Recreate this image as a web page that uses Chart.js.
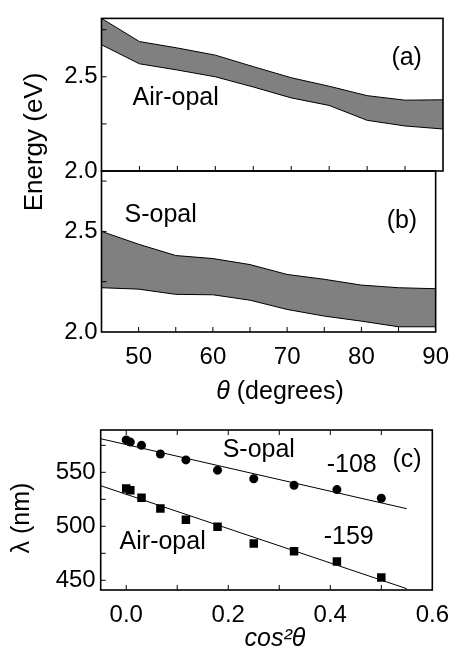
<!DOCTYPE html>
<html lang="en">
<head>
<meta charset="UTF-8">
<title>Opal stop band vs angle</title>
<script src="https://cdn.jsdelivr.net/npm/chart.js"></script>
<style>
  body { margin: 0; background: #fff; }
  .wrap { position: relative; width: 460px; height: 659px; }
  .wrap canvas { position: absolute; left: 0; top: 0; }
</style>
</head>
<body>
<div class="wrap">
  <canvas id="panelA" width="460" height="659"></canvas>
  <canvas id="panelB" width="460" height="659"></canvas>
  <canvas id="panelC" width="460" height="659"></canvas>
</div>
<script>
// (a), (b): stop band edges (eV) vs angle
const theta = [45, 50, 55, 60, 65, 70, 75, 80, 85, 90];
const airUpper = [2.81, 2.687, 2.653, 2.615, 2.554, 2.495, 2.45, 2.40, 2.376, 2.378];
const airLower = [2.67, 2.569, 2.536, 2.50, 2.446, 2.388, 2.348, 2.269, 2.239, 2.223];
const sUpper = [2.50, 2.436, 2.38, 2.365, 2.335, 2.286, 2.262, 2.233, 2.22, 2.215];
const sLower = [2.22, 2.213, 2.187, 2.185, 2.158, 2.112, 2.079, 2.054, 2.026, 2.026];

// (c): peak wavelength (nm) vs cos^2(theta)
const cos2 = [0, 0.008, 0.030, 0.067, 0.117, 0.179, 0.250, 0.329, 0.413, 0.500];
const sOpalNm = [580, 578, 575, 567, 561.5, 552, 544, 538, 534, 526];
const airOpalNm = [535, 533.5, 526.5, 516.5, 506, 499.5, 484, 477, 467.5, 452.5];
const fitX = [-0.05, 0.55];
const sFitNm = [581.1, 516.3];
const airFitNm = [537.6, 442.2];

// ticks
const thetaTicks = [45, 50, 55, 60, 65, 70, 75, 80, 85, 90];
const energyTicks = [2.0, 2.25, 2.5, 2.75];
const cos2Ticks = [0, 0.1, 0.2, 0.3, 0.4, 0.5, 0.6];
const lambdaTicks = [450, 475, 500, 525, 550, 575];

const FONT = '"Liberation Sans", Arial, sans-serif';

function pts(xs, ys) { return xs.map((x, i) => ({ x: x, y: ys[i] })); }

// box around the plot area + inward tick marks
const frame = {
  id: 'frame',
  afterDatasetsDraw(chart, args, o) {
    const { ctx, chartArea: a, scales } = chart;
    const len = 5;
    ctx.save();
    ctx.strokeStyle = '#000';
    ctx.lineWidth = 1;
    ctx.beginPath();
    scales.y.ticks.forEach(t => {
      const p = scales.y.getPixelForValue(t.value);
      if (p > a.top + 1 && p < a.bottom - 1) { ctx.moveTo(a.left, p); ctx.lineTo(a.left + len, p); }
    });
    scales.x.ticks.forEach(t => {
      const p = scales.x.getPixelForValue(t.value);
      if (p > a.left + 1 && p < a.right - 1) {
        ctx.moveTo(p, a.bottom); ctx.lineTo(p, a.bottom - len);
        if (o.top) { ctx.moveTo(p, a.top); ctx.lineTo(p, a.top + len); }
      }
    });
    ctx.stroke();
    ctx.lineWidth = 1.6;
    ctx.strokeRect(a.left, a.top, a.right - a.left, a.bottom - a.top);
    ctx.restore();
  }
};

// text inside the panels (data coords) and the axis titles (page coords)
const notes = {
  id: 'notes',
  afterDatasetsDraw(chart, args, o) {
    const { ctx, scales } = chart;
    ctx.save();
    ctx.fillStyle = '#000';
    ctx.textBaseline = 'middle';
    (o.items || []).forEach(n => {
      ctx.font = '25px ' + FONT;
      ctx.textAlign = 'left';
      ctx.fillText(n.text, scales.x.getPixelForValue(n.x), scales.y.getPixelForValue(n.y));
    });
    (o.titles || []).forEach(t => {
      ctx.save();
      ctx.translate(t.x, t.y);
      if (t.rotate) ctx.rotate(-Math.PI / 2);
      const parts = t.parts.map(p => ({ text: p.text, font: (p.italic ? 'italic ' : '') + t.size + 'px ' + FONT }));
      let w = 0;
      parts.forEach(p => { ctx.font = p.font; p.w = ctx.measureText(p.text).width; w += p.w; });
      let x = -w / 2;
      ctx.textAlign = 'left';
      parts.forEach(p => { ctx.font = p.font; ctx.fillText(p.text, x, 0); x += p.w; });
      ctx.restore();
    });
    ctx.restore();
  }
};

function energyAxis(max) {
  return {
    type: 'linear', min: 2.0, max: max,
    grid: { display: false, drawTicks: false }, border: { display: false },
    afterBuildTicks: s => { s.ticks = energyTicks.map(v => ({ value: v })); },
    afterFit: s => { s.width = 101.5; },
    ticks: {
      color: '#000', padding: 4, font: { family: FONT, size: 24 },
      callback: v => (Math.round(v * 4) % 2 === 0 ? v.toFixed(1) : '')
    }
  };
}

function thetaAxis(showLabels, h) {
  return {
    type: 'linear', min: 45, max: 90,
    grid: { display: false, drawTicks: false }, border: { display: false },
    afterBuildTicks: s => { s.ticks = thetaTicks.map(v => ({ value: v })); },
    afterFit: s => { s.height = h; },
    ticks: {
      display: showLabels, color: '#000', padding: 11, maxRotation: 0, autoSkip: false,
      font: { family: FONT, size: 24 },
      callback: v => (v % 10 === 0 ? String(v) : '')
    }
  };
}

function bandChart(id, upper, lower, yMax, padTop, padBottom, xH, showX, extra) {
  return new Chart(document.getElementById(id), {
    type: 'line',
    data: {
      datasets: [
        { data: pts(theta, lower), borderColor: '#000', borderWidth: 1, pointRadius: 0, fill: false },
        { data: pts(theta, upper), borderColor: '#000', borderWidth: 1, pointRadius: 0,
          fill: '-1', backgroundColor: '#808080' }
      ]
    },
    options: {
      responsive: false, animation: false,
      layout: { padding: { left: 0, top: padTop, right: 17, bottom: padBottom } },
      elements: { line: { tension: 0 } },
      plugins: { legend: { display: false }, tooltip: { enabled: false }, frame: {}, notes: extra },
      scales: { x: thetaAxis(showX, xH), y: energyAxis(yMax) }
    },
    plugins: [frame, notes]
  });
}

bandChart('panelA', airUpper, airLower, 2.81, 7, 488, 0, false, {
  items: [
    { text: 'Air-opal', x: 49.1, y: 2.386 },
    { text: '(a)', x: 83.2, y: 2.6 }
  ],
  titles: [
    { x: 35, y: 142, rotate: true, size: 26, parts: [{ text: 'Energy (eV)' }] }
  ]
});

bandChart('panelB', sUpper, sLower, 2.8, 171, 659 - 332 - 40, 40, true, {
  items: [
    { text: 'S-opal', x: 48.1, y: 2.579 },
    { text: '(b)', x: 83.4, y: 2.55 }
  ],
  titles: [
    { x: 280, y: 392, size: 25, parts: [{ text: 'θ', italic: true }, { text: ' (degrees)' }] }
  ]
});

new Chart(document.getElementById('panelC'), {
  type: 'scatter',
  data: {
    datasets: [
      { data: pts(cos2, sOpalNm), pointStyle: 'circle', pointRadius: 4.5,
        backgroundColor: '#000', borderColor: '#000', borderWidth: 0 },
      { data: pts(cos2, airOpalNm), pointStyle: 'rect', pointRadius: 6,
        backgroundColor: '#000', borderColor: '#000', borderWidth: 0 },
      { data: pts(fitX, sFitNm), showLine: true, pointRadius: 0, borderColor: '#000', borderWidth: 1 },
      { data: pts(fitX, airFitNm), showLine: true, pointRadius: 0, borderColor: '#000', borderWidth: 1 }
    ]
  },
  options: {
    responsive: false, animation: false,
    layout: { padding: { left: 0, top: 430, right: 18.3, bottom: 659 - 590 - 40 } },
    plugins: {
      legend: { display: false }, tooltip: { enabled: false },
      frame: { top: true },
      notes: {
        items: [
          { text: 'S-opal', x: 0.189, y: 570.6 },
          { text: '-108', x: 0.393, y: 556.8 },
          { text: '(c)', x: 0.522, y: 561.4 },
          { text: 'Air-opal', x: -0.013, y: 485.5 },
          { text: '-159', x: 0.387, y: 490 }
        ],
        titles: [
          { x: 22, y: 518, rotate: true, size: 25, parts: [{ text: 'λ (nm)' }] },
          { x: 275, y: 639, size: 25, parts: [{ text: 'cos²θ', italic: true }] }
        ]
      }
    },
    scales: {
      x: {
        type: 'linear', min: -0.05, max: 0.6,
        grid: { display: false, drawTicks: false }, border: { display: false },
        afterBuildTicks: s => { s.ticks = cos2Ticks.map(v => ({ value: v })); },
        afterFit: s => { s.height = 40; },
        ticks: {
          color: '#000', padding: 11, maxRotation: 0, autoSkip: false,
          font: { family: FONT, size: 24 },
          callback: v => (Math.round(v * 10) % 2 === 0 ? v.toFixed(1) : '')
        }
      },
      y: {
        type: 'linear', min: 441, max: 589.2,
        grid: { display: false, drawTicks: false }, border: { display: false },
        afterBuildTicks: s => { s.ticks = lambdaTicks.map(v => ({ value: v })); },
        afterFit: s => { s.width = 100.7; },
        ticks: {
          color: '#000', padding: 5, font: { family: FONT, size: 24 },
          callback: v => (v % 50 === 0 ? String(v) : '')
        }
      }
    }
  },
  plugins: [frame, notes]
});
</script>
</body>
</html>
